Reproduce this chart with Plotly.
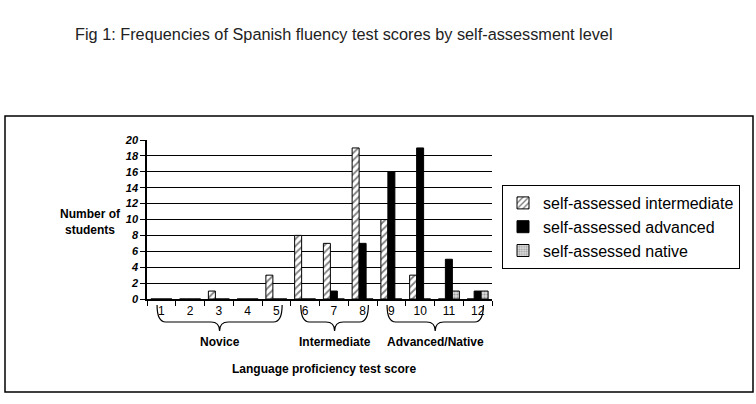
import plotly.graph_objects as go

scores = list(range(1, 13))
intermediate = [0, 0, 1, 0, 3, 8, 7, 19, 10, 3, 0, 0]
advanced = [0, 0, 0, 0, 0, 0, 1, 7, 16, 19, 5, 1]
native = [0, 0, 0, 0, 0, 0, 0, 0, 0, 0, 1, 1]
series_names = ["self-assessed intermediate", "self-assessed advanced", "self-assessed native"]
groups = [("Novice", 1, 5), ("Intermediate", 6, 8), ("Advanced/Native", 9, 12)]
title = "Fig 1: Frequencies of Spanish fluency test scores by self-assessment level"
y_ticks = list(range(0, 21, 2))

FONT = "Liberation Sans, Arial, sans-serif"
W, H = 756, 404
L, R, T, B = 147, 492, 140, 299

def px_x(p):
    return (p - L) / (R - L)

def px_y(p):
    return (B - p) / (B - T)

fig = go.Figure()
fig.add_bar(x=scores, y=intermediate, name=series_names[0],
            marker=dict(color="white", line=dict(color="black", width=1),
                        pattern=dict(shape="/", fgcolor="black", bgcolor="white", size=5, solidity=0.35)))
fig.add_bar(x=scores, y=advanced, name=series_names[1],
            marker=dict(color="black", line=dict(color="black", width=1)))
fig.add_bar(x=scores, y=native, name=series_names[2],
            marker=dict(color="#cfcfcf", line=dict(color="black", width=1),
                        pattern=dict(shape=".", fgcolor="#555555", bgcolor="#dcdcdc", size=3, solidity=0.4)))

shapes = []
# outer frame
shapes.append(dict(type="rect", xref="paper", yref="paper",
                   x0=px_x(5), x1=px_x(753), y0=px_y(392), y1=px_y(116),
                   line=dict(color="black", width=1.5), layer="below"))

annotations = []
yTop, yMid, yTip = px_y(305), px_y(322), px_y(331)
for name, a, b in groups:
    x0, x1 = a - 0.15, b + 0.2
    xc = (x0 + x1) / 2
    d = 0.3
    path = (f"M {x0},{yTop} Q {x0},{yMid} {x0+d},{yMid} L {xc-d},{yMid} "
            f"Q {xc},{yMid} {xc},{yTip} Q {xc},{yMid} {xc+d},{yMid} "
            f"L {x1-d},{yMid} Q {x1},{yMid} {x1},{yTop}")
    shapes.append(dict(type="path", xref="x", yref="paper", path=path,
                       line=dict(color="black", width=1.2)))
    annotations.append(dict(x=xc, y=px_y(342), xref="x", yref="paper", text=name,
                            xanchor="center", yanchor="middle", showarrow=False,
                            font=dict(family=FONT, size=12, color="black", weight="bold")))

annotations.append(dict(x=px_x(324), y=px_y(369), xref="paper", yref="paper",
                        xanchor="center", yanchor="middle",
                        text="Language proficiency test score", showarrow=False,
                        font=dict(family=FONT, size=12, color="black", weight="bold")))
annotations.append(dict(x=px_x(90), y=px_y(222), xref="paper", yref="paper",
                        xanchor="center", yanchor="middle",
                        text="Number of<br>students", showarrow=False,
                        font=dict(family=FONT, size=12, color="black", weight="bold")))
annotations.append(dict(x=px_x(73), y=px_y(34), xref="paper", yref="paper",
                        xanchor="left", yanchor="middle",
                        text=title, showarrow=False,
                        font=dict(family=FONT, size=16.3, color="#222222")))

fig.update_layout(
    width=W, height=H,
    margin=dict(l=L, r=W - R, t=T, b=H - B, pad=0),
    paper_bgcolor="white", plot_bgcolor="white",
    barmode="group", bargap=0.27, bargroupgap=0,
    font=dict(family=FONT, color="black"),
    shapes=shapes, annotations=annotations,
    legend=dict(x=px_x(502), y=px_y(185), xanchor="left", yanchor="top",
                bordercolor="black", borderwidth=1, bgcolor="white",
                font=dict(family=FONT, size=16, color="black"),
                tracegroupgap=0, itemwidth=30),
)
fig.update_xaxes(range=[0.5, 12.5], tickvals=scores, ticktext=[str(s) for s in scores],
                 ticks="", showline=True, linecolor="black", linewidth=1.5,
                 showgrid=False, zeroline=False,
                 tickfont=dict(family=FONT, size=12, color="black"),
                 minor=dict(tick0=0.5, dtick=1, ticks="outside", ticklen=5, tickcolor="black",
                            tickwidth=1.2, showgrid=False))
fig.update_yaxes(range=[0, 20], tickvals=y_ticks, ticks="outside", ticklen=5, tickcolor="black",
                 tickwidth=1.2, showline=True, linecolor="black", linewidth=1.5,
                 showgrid=True, gridcolor="black", gridwidth=1.3, zeroline=False,
                 tickfont=dict(family=FONT, size=11, color="black", weight="bold", style="italic"))

fig.write_html("out.html")
